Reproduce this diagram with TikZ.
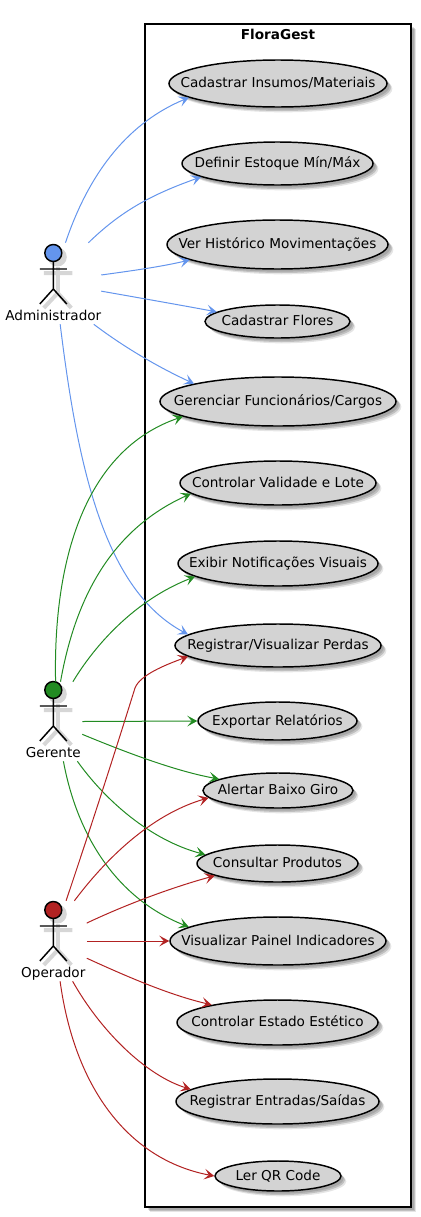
\documentclass[tikz,border=0pt]{standalone}
\usepackage{fontspec}
\setmainfont{DejaVu Sans}
\usetikzlibrary{arrows.meta,shapes.geometric,shadows}

\definecolor{adminblue}{HTML}{6495ED}
\definecolor{gerentegreen}{HTML}{228B22}
\definecolor{operadorred}{HTML}{B22222}
\definecolor{ucgray}{HTML}{D3D3D3}

\tikzset{
  softshadow/.style={
    general shadow={shadow xshift=2pt,shadow yshift=-2pt,draw=none,fill=black,opacity=.12},
    general shadow={shadow xshift=3pt,shadow yshift=-3pt,draw=none,fill=black,opacity=.16},
    general shadow={shadow xshift=4pt,shadow yshift=-4pt,draw=none,fill=black,opacity=.10}},
  usecase/.style 2 args={ellipse,draw=black,line width=1.1pt,fill=ucgray,softshadow,inner sep=0pt,
    minimum width=#1*0.75pt,minimum height=#2*0.75pt,font=\fontsize{10.2}{12}\selectfont,
    text height=8pt,text depth=2pt},
  actorbox/.style 2 args={rectangle,inner sep=0pt,minimum width=#1*0.75pt,minimum height=#2*0.75pt},
  actorlabel/.style={inner sep=0pt,font=\fontsize{10.2}{12}\selectfont,text height=8pt,text depth=2pt},
  linkadmin/.style={draw=adminblue,line width=0.75pt,-{Stealth[inset=3.4pt,length=7.5pt,width=8pt]}},
  linkgerente/.style={linkadmin,draw=gerentegreen},
  linkoperador/.style={linkadmin,draw=operadorred}
}

% stick figure: x, y of the head, colour
\newcommand{\actorfig}[3]{
  \begin{scope}[shift={(#1,#2)}]
    \fill[black!16] (4,4) circle (9.5);
    \draw[black!16,line width=3pt] (-9.5,20) -- (19,20) (4.5,14) -- (4.5,40) -- (-9.5,55) (4.5,40) -- (18,55);
    \draw[line width=1.1pt,fill=#3] (0,0) circle (8.5);
    \draw[line width=1.1pt] (-13.5,16) -- (13.5,16) (0,8.5) -- (0,36) -- (-13.5,51) (0,36) -- (13.5,51);
  \end{scope}
}

\newcommand{\uctext}[1]{\makebox[0pt]{#1}}

\begin{document}
\begin{tikzpicture}[x=0.75pt,y=0.75pt,yscale=-1,xscale=1]
\useasboundingbox (0,0) rectangle (421,1217);

% Package
\node[rectangle,draw=black,line width=1.1pt,fill=white,softshadow,inner sep=0pt,
  minimum width=266*0.75pt,minimum height=1183*0.75pt] (floragest) at (278,615.5) {};
\node[inner sep=0pt,font=\fontsize{10.2}{12}\selectfont\bfseries] (floragesttitle) at (278,34) {FloraGest};

% Actors
\actorfig{53.3}{253}{adminblue}
\actorfig{53.3}{690}{gerentegreen}
\actorfig{53.3}{910}{operadorred}
\node[actorbox={96}{81}] (admin) at (53,283.5) {};
\node[actorbox={57}{79}] (gerente) at (53.5,721.5) {};
\node[actorbox={67}{80}] (operador) at (53,941) {};
\node[actorlabel] (adminlabel) at (53.3,316) {Administrador};
\node[actorlabel] (gerentelabel) at (53.3,753) {Gerente};
\node[actorlabel] (operadorlabel) at (53.3,973) {Operador};

% Use cases
\node[usecase={218}{47}] (insumos) at (278,83.5) {\uctext{Cadastrar Insumos/Materiais}};
\node[usecase={191}{43}] (estoque) at (277.5,163.5) {\uctext{Definir Estoque Mín/Máx}};
\node[usecase={221}{49}] (historico) at (277.5,244.5) {\uctext{Ver Histórico Movimentações}};
\node[usecase={145}{33}] (flores) at (277.5,321.5) {\uctext{Cadastrar Flores}};
\node[usecase={236}{49}] (funcionarios) at (278,401.5) {\uctext{Gerenciar Funcionários/Cargos}};
\node[usecase={196}{44}] (validade) at (278,483) {\uctext{Controlar Validade e Lote}};
\node[usecase={200}{45}] (notificacoes) at (278,563.5) {\uctext{Exibir Notificações Visuais}};
\node[usecase={206}{43}] (perdas) at (278,645.5) {\uctext{Registrar/Visualizar Perdas}};
\node[usecase={159}{38}] (relatorios) at (277.5,721) {\uctext{Exportar Relatórios}};
\node[usecase={150}{35}] (baixogiro) at (278,790.5) {\uctext{Alertar Baixo Giro}};
\node[usecase={161}{37}] (produtos) at (277.5,863.5) {\uctext{Consultar Produtos}};
\node[usecase={216}{48}] (painel) at (278,941) {\uctext{Visualizar Painel Indicadores}};
\node[usecase={201}{45}] (estetico) at (277.5,1022.5) {\uctext{Controlar Estado Estético}};
\node[usecase={203}{45}] (entradas) at (277.5,1101.5) {\uctext{Registrar Entradas/Saídas}};
\node[usecase={126}{30}] (qrcode) at (278,1176) {\uctext{Ler QR Code}};

% Administrador
\draw[linkadmin] (admin.73) .. controls (90,170) and (130,122) .. (insumos.189);
\draw[linkadmin] (admin.49) .. controls (120,212) and (150,195) .. (estoque.190);
\draw[linkadmin] (admin.10) .. controls (130,271) and (160,267) .. (historico.190);
\draw[linkadmin] (admin.-9) .. controls (140,298) and (180,305) .. (flores.171);
\draw[linkadmin] (admin.-45) .. controls (125,348) and (160,368) .. (funcionarios.168);
\draw[linkadmin] (admin.-80) .. controls (78,470) and (105,590) .. (perdas.173);

% Gerente
\draw[linkgerente] (gerente.87) .. controls (53,560) and (85,450) .. (funcionarios.189);
\draw[linkgerente] (gerente.80) .. controls (75,600) and (110,530) .. (validade.187);
\draw[linkgerente] (gerente.64) .. controls (95,645) and (135,600) .. (notificacoes.189);
\draw[linkgerente] (gerente.0) -- (relatorios.180);
\draw[linkgerente] (gerente.-24) .. controls (125,752) and (175,771) .. (baixogiro.169);
\draw[linkgerente] (gerente.-59) .. controls (105,800) and (150,840) .. (produtos.173);
\draw[linkgerente] (gerente.-76) .. controls (78,840) and (120,900) .. (painel.171);

% Operador
\draw[linkoperador] (operador.72) .. controls (100,800) and (125,720) .. (135,688)
  .. controls (140,675) and (165,665) .. (perdas.187);
\draw[linkoperador] (operador.62) .. controls (105,860) and (150,815) .. (baixogiro.186);
\draw[linkoperador] (operador.28) .. controls (125,905) and (170,888) .. (produtos.191);
\draw[linkoperador] (operador.0) -- (painel.180);
\draw[linkoperador] (operador.-27) .. controls (130,978) and (170,995) .. (estetico.165.4);
\draw[linkoperador] (operador.-64) .. controls (100,1030) and (145,1075) .. (entradas.172);
\draw[linkoperador] (operador.-80) .. controls (75,1090) and (130,1160) .. (qrcode.180);

\end{tikzpicture}
\end{document}
